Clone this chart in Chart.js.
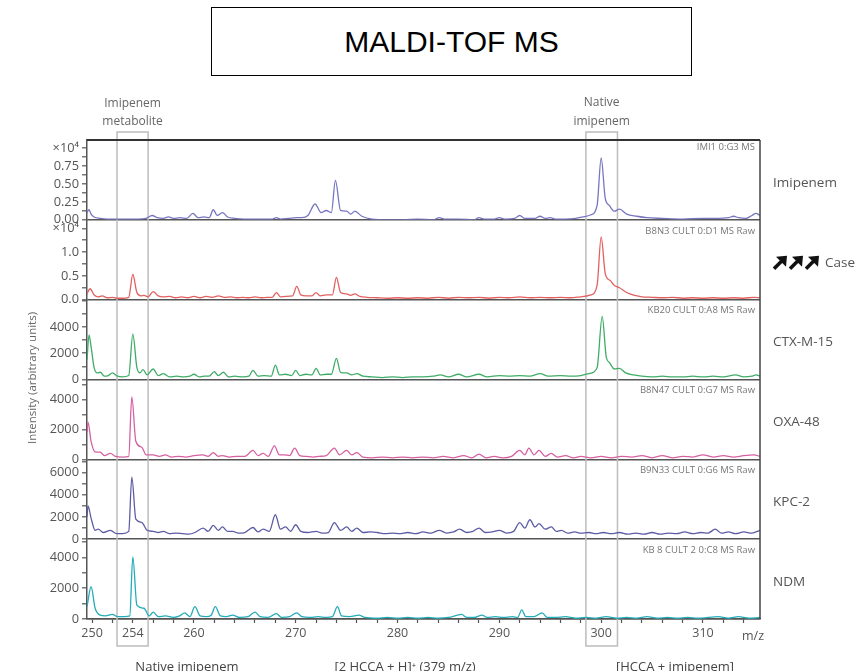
<!DOCTYPE html>
<html>
<head>
<meta charset="utf-8">
<script src="https://cdn.jsdelivr.net/npm/chart.js@4.4.0/dist/chart.umd.min.js"></script>
<style>
  body { margin: 0; background: #fff; }
  #wrap { position: relative; width: 866px; height: 671px; overflow: hidden; }
  #title {
    position: absolute; left: 211px; top: 7px; width: 479px; height: 67px;
    border: 1px solid #000; text-align: center; line-height: 67px;
    font-family: "Liberation Sans", Arial, sans-serif; font-size: 30px; color: #000;
  }
  canvas { position: absolute; left: 0; top: 0; }
</style>
</head>
<body>
<div id="wrap">
  <div id="title">MALDI-TOF MS</div>
  <canvas id="spectra" width="866" height="671"></canvas>
</div>
<script>
// m/z range and labelled ticks
const mzRange = [249.5, 315.6];
const mzLabels = [250, 254, 260, 270, 280, 290, 300, 310];
const metaboliteWindow = [252.45, 255.5];
const nativeWindow = [298.5, 301.6];

const panelNames = ['Imipenem', 'Case', 'CTX-M-15', 'OXA-48', 'KPC-2', 'NDM'];
const runNames = ['IMI1 0:G3 MS', 'B8N3 CULT 0:D1 MS Raw', 'KB20 CULT 0:A8 MS Raw',
  'B8N47 CULT 0:G7 MS Raw', 'B9N33 CULT 0:G6 MS Raw', 'KB 8 CULT 2 0:C8 MS Raw'];
// intensity axes (first two in x10^4)
const panelMax = [1.11, 1.68, 6070, 5360, 7200, 5200];
const panelTickTop = [1, 1.5, 6000, 5000, 7000, 5000];
const panelTickStep = [0.125, 0.25, 1000, 1000, 1000, 1000];
const panelLabelStep = [0.25, 0.5, 2000, 2000, 2000, 2000];
const panelLabelTop = [0.75, 1.0, 4000, 4000, 6000, 4000];

// [m/z, intensity]
const imipenemSpectrum = [[249.5,0.10],[249.7,0.14],[249.9,0.08],[250.2,0.04],[250.8,0.02],[251.5,0.01],[252.5,0.01],
  [253.5,0.01],[254.5,0.01],[255.3,0.02],[255.9,0.06],[256.4,0.03],[257,0.02],[257.5,0.04],[258,0.02],[258.6,0.03],
  [259.3,0.02],[259.9,0.09],[260.4,0.03],[261,0.04],[261.5,0.03],[261.9,0.14],[262.3,0.06],[262.8,0.10],[263.3,0.04],
  [264,0.02],[265,0.01],[266,0.01],[267,0.01],[267.7,0.01],[268.1,0.03],[268.5,0.01],[269.3,0.02],[270.1,0.03],
  [270.6,0.03],[271.2,0.06],[271.9,0.22],[272.5,0.10],[273,0.13],[273.5,0.10],[273.9,0.55],[274.4,0.13],[275,0.12],
  [275.4,0.08],[275.8,0.12],[276.5,0.05],[277.5,0.01],[279,0.0],[280.5,0.0],[282,0.01],[283.5,0.0],[284.1,0.03],
  [284.6,0.01],[286,0.01],[287.5,0.0],[288,0.03],[288.5,0.01],[289.5,0.01],[290,0.03],[290.5,0.01],[291.5,0.02],
  [292,0.06],[292.5,0.02],[293.5,0.02],[294,0.05],[294.5,0.02],[295,0.03],[295.5,0.01],[296.5,0.01],[297.5,0.02],
  [298.2,0.04],[299,0.07],[299.6,0.20],[300,0.86],[300.4,0.30],[300.8,0.20],[301.3,0.12],[301.8,0.15],[302.5,0.08],
  [303.5,0.05],[304.5,0.03],[306,0.02],[308,0.01],[310,0.02],[311.5,0.02],[312.5,0.03],[313,0.05],[313.5,0.03],
  [314.2,0.02],[314.8,0.06],[315.2,0.09],[315.6,0.06]];

const caseSpectrum = [[249.5,0.12],[249.8,0.23],[250.2,0.10],[250.6,0.06],[251,0.08],[251.5,0.04],[252,0.05],[252.5,0.03],
  [253,0.03],[253.6,0.05],[254,0.53],[254.4,0.15],[254.8,0.08],[255.1,0.09],[255.5,0.06],[256,0.17],[256.5,0.08],
  [257,0.06],[257.6,0.07],[258.2,0.04],[258.8,0.06],[259.4,0.04],[260,0.07],[260.6,0.04],[261.2,0.07],[261.8,0.05],
  [262.4,0.08],[263,0.05],[263.6,0.06],[264.2,0.04],[264.8,0.05],[265.4,0.04],[266,0.06],[266.6,0.04],[267.2,0.05],
  [267.7,0.05],[268.1,0.15],[268.5,0.06],[269,0.07],[269.7,0.08],[270.1,0.28],[270.5,0.10],[271,0.08],[271.6,0.08],
  [272,0.15],[272.4,0.08],[273,0.10],[273.6,0.10],[274,0.47],[274.4,0.15],[275,0.12],[275.4,0.09],[275.8,0.12],
  [276.3,0.07],[277,0.05],[278,0.04],[279,0.03],[280,0.04],[281,0.03],[282,0.04],[283,0.03],[284,0.05],[285,0.03],
  [286,0.05],[287,0.04],[288,0.05],[289,0.03],[290,0.05],[291,0.04],[292,0.06],[293,0.04],[294,0.05],[295,0.04],
  [296,0.05],[297,0.04],[298,0.06],[299,0.10],[299.6,0.30],[300,1.32],[300.4,0.55],[300.9,0.40],[301.3,0.30],
  [301.8,0.25],[302.5,0.15],[303.3,0.09],[304,0.06],[305,0.05],[306,0.04],[307,0.05],[308,0.03],[309,0.04],
  [310,0.03],[311,0.04],[312,0.03],[313,0.04],[314,0.03],[315,0.05],[315.6,0.04]];

const ctxSpectrum = [[249.5,1500],[249.7,3400],[249.9,2500],[250.2,900],[250.5,500],[250.8,550],[251.2,250],[251.6,300],
  [252,500],[252.5,250],[253,200],[253.6,300],[254,3450],[254.4,900],[254.7,500],[255,750],[255.4,350],[256,800],
  [256.5,300],[257,450],[257.6,200],[258.3,250],[259,200],[259.6,250],[260,400],[260.5,200],[261,250],[261.5,250],
  [262,600],[262.4,300],[262.9,550],[263.4,200],[264,250],[264.8,200],[265.4,250],[265.8,700],[266.3,250],[266.9,300],
  [267.6,250],[268,1100],[268.4,350],[269,400],[269.6,300],[270,700],[270.4,300],[271,400],[271.6,350],[272,850],
  [272.4,350],[273,400],[273.5,400],[274,1600],[274.4,550],[275,500],[275.5,350],[276,450],[276.6,250],[277.5,200],
  [278.5,150],[279.5,200],[280.5,150],[281.5,200],[282.5,200],[283.5,250],[284.2,350],[285,200],[286,400],[286.8,200],
  [288,400],[288.8,200],[290,300],[291,250],[292,300],[293,250],[294,450],[294.8,250],[296,300],[297,250],[298,300],
  [298.8,450],[299.6,900],[300.1,4800],[300.5,1700],[300.8,1300],[301.3,800],[301.8,850],[302.4,500],[303.2,350],
  [304,250],[305,200],[306,250],[307,200],[308,200],[309,250],[310,200],[311,250],[312,200],[313.2,350],[314,200],
  [314.8,250],[315.2,350],[315.6,250]];

const oxaSpectrum = [[249.5,1800],[249.6,2500],[249.9,1200],[250.3,500],[250.8,480],[251.2,250],[251.8,400],[252.3,200],
  [253,150],[253.6,200],[253.9,4200],[254.3,1200],[254.9,800],[255.3,300],[256,300],[256.6,200],[257.2,300],[257.8,150],
  [258.5,200],[259.2,150],[260,250],[260.9,300],[261.4,200],[261.9,450],[262.4,200],[262.8,250],[263.5,150],[264.2,200],
  [265,200],[265.8,600],[266.3,250],[266.8,400],[267.3,200],[267.9,900],[268.4,300],[268.9,300],[269.4,250],[269.9,750],
  [270.4,250],[271,200],[271.7,150],[272.3,200],[273,250],[273.8,750],[274.3,300],[275,600],[275.5,300],[276,450],
  [276.6,150],[277.5,100],[278.5,150],[279.5,100],[280.5,150],[281.5,100],[282.5,150],[283.5,100],[284.5,200],
  [285.5,100],[286.5,250],[287.3,100],[288,350],[288.7,100],[289.5,200],[290.3,100],[291.2,200],[292,600],[292.5,300],
  [292.9,750],[293.4,300],[293.9,600],[294.5,200],[295.1,400],[295.7,150],[296.5,250],[297.3,100],[298,200],[299,100],
  [300,200],[301,100],[302,200],[303,150],[304,250],[305,100],[306,250],[307,100],[308,200],[309,150],[310,300],
  [311,150],[312,250],[313,150],[314,250],[315,300],[315.6,200]];

const kpcSpectrum = [[249.5,2000],[249.6,3000],[249.9,1900],[250.3,800],[250.6,900],[251.1,600],[251.8,800],[252.4,500],
  [253,500],[253.6,700],[253.9,5600],[254.3,1800],[254.9,1500],[255.4,800],[256,700],[256.5,600],[257,700],[257.6,500],
  [258.2,550],[258.9,500],[259.5,450],[260.1,600],[260.9,1000],[261.4,700],[261.9,1250],[262.4,800],[262.8,1100],
  [263.3,700],[263.8,700],[264.4,550],[265,600],[265.8,1050],[266.3,650],[266.8,900],[267.4,700],[268,2200],[268.5,900],
  [269,1100],[269.5,700],[270,1300],[270.5,700],[271.2,600],[272,700],[272.6,550],[273.2,600],[273.8,1500],[274.4,800],
  [275,1100],[275.5,700],[276,1000],[276.6,600],[277.3,650],[278,600],[278.8,500],[279.5,550],[280.2,500],[281,600],
  [281.8,500],[282.5,650],[283.3,550],[284.1,800],[284.8,550],[285.5,650],[286.1,900],[286.8,600],[287.4,700],
  [288,1000],[288.6,600],[289.3,650],[290,800],[290.7,550],[291.4,700],[292,1500],[292.5,1000],[293,1750],[293.5,1100],
  [293.9,1400],[294.5,900],[295.1,1100],[295.6,700],[296.1,800],[296.7,550],[297.4,650],[298,550],[298.8,600],
  [299.5,500],[300.2,600],[301,500],[301.8,600],[302.6,450],[303.4,550],[304.2,450],[305,600],[305.8,450],[306.6,550],
  [307.4,500],[308.2,650],[309,500],[309.8,600],[310.5,550],[311.2,900],[311.8,550],[312.5,650],[313.2,500],[314,650],
  [314.8,550],[315.6,800]];

const ndmSpectrum = [[249.5,800],[249.9,2100],[250.3,700],[250.8,250],[251.3,200],[252,300],[252.5,150],[253.2,150],
  [253.7,200],[254,4050],[254.4,900],[255.1,700],[255.6,200],[256,450],[256.5,150],[257.2,200],[258,100],[258.6,200],
  [259.1,400],[259.6,150],[260.1,800],[260.6,200],[261.2,150],[261.7,250],[262.1,800],[262.6,200],[263.2,150],
  [263.8,250],[264.5,100],[265.3,150],[266,450],[266.5,150],[267.3,100],[268.1,350],[268.6,100],[269.4,150],[270.1,400],
  [270.6,150],[271.4,100],[272.2,150],[273,100],[273.6,150],[274.1,800],[274.5,200],[275.3,150],[276.2,250],[276.8,100],
  [278,50],[279,100],[280,50],[281,100],[282,50],[283,100],[284,50],[285,100],[286.3,300],[286.8,100],[287.5,100],
  [288.3,250],[288.8,100],[289.6,150],[290.4,100],[291.3,150],[291.8,100],[292.2,600],[292.6,150],[293.4,150],
  [294.2,400],[294.7,100],[295.5,100],[296.5,150],[297.5,50],[298.5,100],[299.5,50],[300.5,150],[301.5,50],[302.5,100],
  [303.5,50],[304.5,150],[305.5,50],[306.5,100],[307.5,50],[308.5,100],[309.5,50],[310.5,100],[311.5,150],[312.5,50],
  [313.5,150],[314.5,50],[315.6,100]];

const spectra = [imipenemSpectrum, caseSpectrum, ctxSpectrum, oxaSpectrum, kpcSpectrum, ndmSpectrum];
const lineColors = ['rgb(118,118,192)', 'rgb(226,96,96)', 'rgb(64,172,104)', 'rgb(214,96,160)', 'rgb(92,92,164)', 'rgb(36,172,184)'];

Chart.defaults.font.family = '"Open Sans", "DejaVu Sans", sans-serif';
Chart.defaults.color = '#555';

function isMult(v, m) {
  return Math.abs(v / m - Math.round(v / m)) < 1e-6;
}

function tickText(i, v) {
  if (i < 2 && Math.abs(v - panelTickTop[i]) < 1e-6) return '×10⁴';
  if (!isMult(v, panelLabelStep[i]) || v > panelLabelTop[i] + 1e-6) return '';
  if (i == 0) return v.toFixed(2);
  if (i == 1) return v.toFixed(1);
  return String(v);
}

const scales = {
  x: {
    type: 'linear',
    min: mzRange[0],
    max: mzRange[1],
    afterFit: s => { s.height = 52; },
    border: { color: '#555', width: 1.5 },
    grid: { drawOnChartArea: false, tickLength: 4, tickColor: '#555', tickWidth: 1.2 },
    ticks: {
      stepSize: 2,
      includeBounds: false,
      autoSkip: false,
      maxRotation: 0,
      padding: 3,
      font: { size: 12.5 },
      color: '#555',
      callback: v => mzLabels.includes(v) ? String(v) : ''
    }
  }
};

// stacked axes are laid out top-down from the last one defined
for (let i = panelNames.length - 1; i >= 0; i--) {
  scales['y' + i] = {
    type: 'linear',
    position: 'left',
    stack: 'panels',
    stackWeight: 1,
    min: 0,
    max: panelMax[i],
    afterFit: s => { s.width = 87; },
    afterBuildTicks: s => {
      const t = [];
      const n = Math.round(panelTickTop[i] / panelTickStep[i]);
      for (let k = 0; k <= n; k++) t.push({ value: +(k * panelTickStep[i]).toFixed(4) });
      s.ticks = t;
    },
    border: { color: '#555', width: 1.5 },
    grid: {
      color: c => (c.tick && c.tick.value === 0) ? '#555' : 'rgba(0,0,0,0)',
      lineWidth: 1.6,
      tickColor: '#555',
      tickLength: 5,
      tickWidth: 1.2
    },
    ticks: {
      autoSkip: false,
      padding: 3,
      font: { size: 12.8 },
      color: '#555',
      callback: v => tickText(i, v)
    }
  };
}

function heavyArrow(ctx, x, y) {
  // bold north-east arrow, x,y = tail
  ctx.beginPath();
  ctx.moveTo(x, y);
  ctx.lineTo(x + 8, y - 8);
  ctx.lineWidth = 3.6;
  ctx.lineCap = 'butt';
  ctx.stroke();
  ctx.beginPath();
  ctx.moveTo(x + 13, y - 13);
  ctx.lineTo(x + 12, y - 2);
  ctx.lineTo(x + 2, y - 12);
  ctx.closePath();
  ctx.fill();
}

const decor = {
  id: 'decor',
  beforeDatasetsDraw(chart) {
    const ctx = chart.ctx;
    const x = chart.scales.x;
    ctx.save();
    ctx.strokeStyle = '#bdbdbd';
    ctx.lineWidth = 1.5;
    [metaboliteWindow, nativeWindow].forEach(w => {
      const x1 = x.getPixelForValue(w[0]);
      const x2 = x.getPixelForValue(w[1]);
      ctx.strokeRect(x1, 132, x2 - x1, 514);
    });
    ctx.restore();
  },
  afterDraw(chart) {
    const ctx = chart.ctx;
    const a = chart.chartArea;
    const x = chart.scales.x;
    ctx.save();
    // frame
    ctx.strokeStyle = '#333';
    ctx.lineWidth = 2;
    ctx.beginPath();
    ctx.moveTo(a.left, a.top);
    ctx.lineTo(a.right, a.top);
    ctx.stroke();
    ctx.strokeStyle = '#444';
    ctx.lineWidth = 1.5;
    ctx.beginPath();
    ctx.moveTo(a.right, a.top);
    ctx.lineTo(a.right, a.bottom);
    ctx.stroke();

    // window labels
    ctx.fillStyle = '#666';
    ctx.font = '12px "Open Sans", sans-serif';
    ctx.textAlign = 'center';
    ctx.textBaseline = 'middle';
    const mx = x.getPixelForValue((metaboliteWindow[0] + metaboliteWindow[1]) / 2);
    const nx = x.getPixelForValue((nativeWindow[0] + nativeWindow[1]) / 2);
    ctx.fillText('Imipenem', mx, 104);
    ctx.fillText('metabolite', mx, 122);
    ctx.fillText('Native', nx, 103);
    ctx.fillText('imipenem', nx, 122);

    // panel labels
    panelNames.forEach((name, i) => {
      const y = chart.scales['y' + i];
      const mid = (y.top + y.bottom) / 2 + 3;
      ctx.textAlign = 'right';
      ctx.font = '9.5px "Open Sans", sans-serif';
      ctx.fillStyle = '#777';
      ctx.fillText(runNames[i], a.right - 5, y.top + (i == 0 ? 7 : 11));
      ctx.textAlign = 'left';
      ctx.font = '13.5px "Open Sans", sans-serif';
      ctx.fillStyle = '#555';
      if (name == 'Case') {
        ctx.fillStyle = '#111';
        ctx.strokeStyle = '#111';
        for (let k = 0; k < 3; k++) heavyArrow(ctx, 774 + k * 16, mid + 6);
        ctx.fillStyle = '#555';
        ctx.fillText(name, 825, mid);
      } else {
        ctx.fillText(name, 773, mid);
      }
    });

    // axis titles
    ctx.fillStyle = '#555';
    ctx.font = '12.5px "Open Sans", sans-serif';
    ctx.textAlign = 'left';
    ctx.fillText('m/z', 742, 636);
    ctx.save();
    ctx.translate(33, 378);
    ctx.rotate(-Math.PI / 2);
    ctx.textAlign = 'center';
    ctx.font = '11.5px "Open Sans", sans-serif';
    ctx.fillStyle = '#666';
    ctx.fillText('Intensity (arbitrary units)', 0, 0);
    ctx.restore();

    // peak captions (cut off at the bottom edge)
    ctx.fillStyle = '#444';
    ctx.font = '13px "Open Sans", sans-serif';
    ctx.textAlign = 'center';
    ctx.textBaseline = 'top';
    ctx.fillText('Native imipenem', 187, 661);
    ctx.fillText('[2 HCCA + H]⁺ (379 m/z)', 405, 661);
    ctx.fillText('[HCCA + imipenem]', 675, 661);
    ctx.restore();
  }
};

new Chart(document.getElementById('spectra'), {
  type: 'line',
  data: {
    datasets: spectra.map((s, i) => ({
      label: panelNames[i],
      data: s.map(p => ({ x: p[0], y: p[1] })),
      yAxisID: 'y' + i,
      borderColor: lineColors[i],
      borderWidth: 1.3,
      pointRadius: 0,
      cubicInterpolationMode: 'monotone',
      fill: false
    }))
  },
  options: {
    responsive: false,
    animation: false,
    layout: { padding: { top: 140, right: 106, left: 0, bottom: 0 } },
    plugins: { legend: { display: false }, tooltip: { enabled: false } },
    scales: scales
  },
  plugins: [decor]
});
</script>
</body>
</html>
